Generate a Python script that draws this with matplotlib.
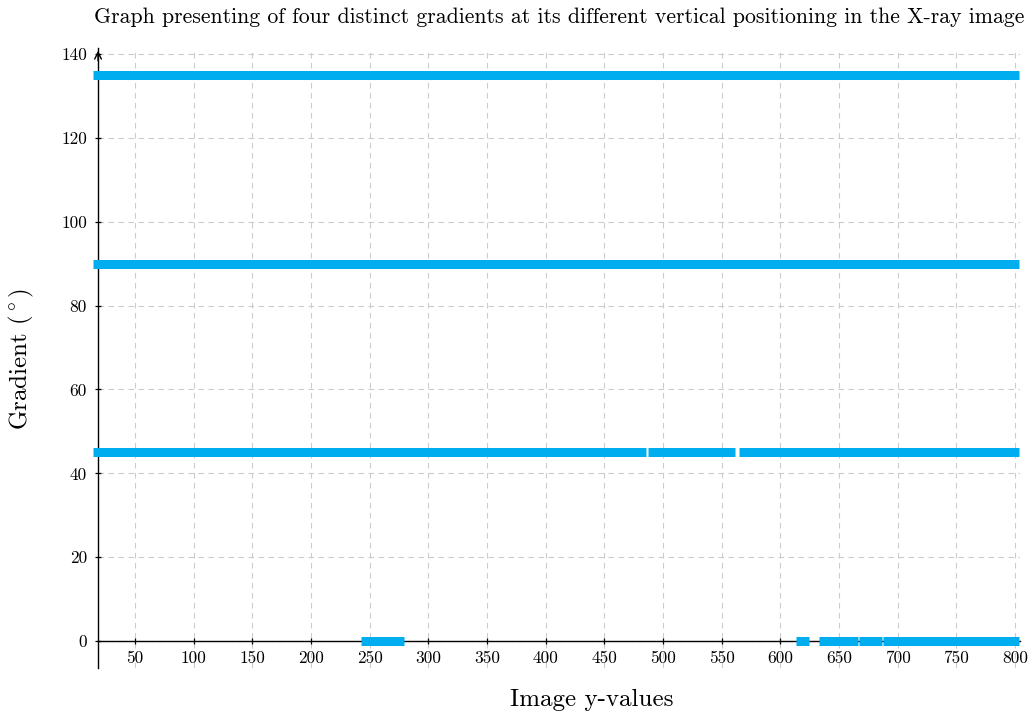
import matplotlib
matplotlib.use("Agg")
import matplotlib.pyplot as plt

plt.rcParams["font.family"] = "cmr10"
plt.rcParams["mathtext.fontset"] = "cm"
plt.rcParams["axes.unicode_minus"] = False

# gradient levels (degrees) and the y-ranges where each one was detected
gradients = [135, 90, 45, 0]
ranges_135 = [(14.5, 803.5)]
ranges_90 = [(14.5, 803.5)]
ranges_45 = [(14.5, 485.5), (487.0, 561.6), (564.5, 803.5)]
ranges_0 = [(242.5, 279.0), (613.3, 624.7), (633.0, 665.9), (667.0, 686.4), (687.8, 803.5)]
all_ranges = [ranges_135, ranges_90, ranges_45, ranges_0]

xticks = list(range(50, 801, 50))
yticks = list(range(0, 141, 20))

if __name__ == "__main__":
    fig = plt.figure(figsize=(10.34, 7.17), dpi=100)
    ax = fig.add_axes([0.0948, 0.0683, 0.8917, 0.8647])

    for g, ranges in zip(gradients, all_ranges):
        for a, b in ranges:
            ax.plot([a, b], [g, g], color="#00aeef", lw=6.5, solid_capstyle="butt",
                    clip_on=False, zorder=3)

    ax.set_xlim(18.5, 804.3)
    ax.set_ylim(-6.4, 141.4)
    ax.set_xticks(xticks)
    ax.set_yticks(yticks)
    ax.grid(True, ls=(0, (5, 4)), color="#cccccc", lw=0.8)

    ax.spines["top"].set_visible(False)
    ax.spines["right"].set_visible(False)
    ax.spines["bottom"].set_position(("data", 0))
    ax.spines["bottom"].set_zorder(2)
    for s in ("left", "bottom"):
        ax.spines[s].set_linewidth(1.0)
    ax.tick_params(direction="inout", length=4, width=0.9, labelsize=12.5)
    ax.tick_params(axis="x", pad=5)
    ax.tick_params(axis="y", pad=6)

    # arrow head on the vertical axis
    ax.annotate("", xy=(0, 1.0), xytext=(0, 0.975), xycoords="axes fraction",
                arrowprops=dict(arrowstyle="->", lw=1.0, color="black",
                                mutation_scale=12))

    ax.set_title("Graph presenting of four distinct gradients at its different vertical "
                 "positioning in the X-ray image", fontsize=15.7, pad=18)
    fig.text(0.572, 0.024, "Image y-values", fontsize=18, ha="center", va="center")
    fig.text(0.021, 0.50, r"Gradient $(^\circ)$", fontsize=18, ha="center",
             va="center", rotation=90)

    plt.savefig("out.png", dpi=100)
